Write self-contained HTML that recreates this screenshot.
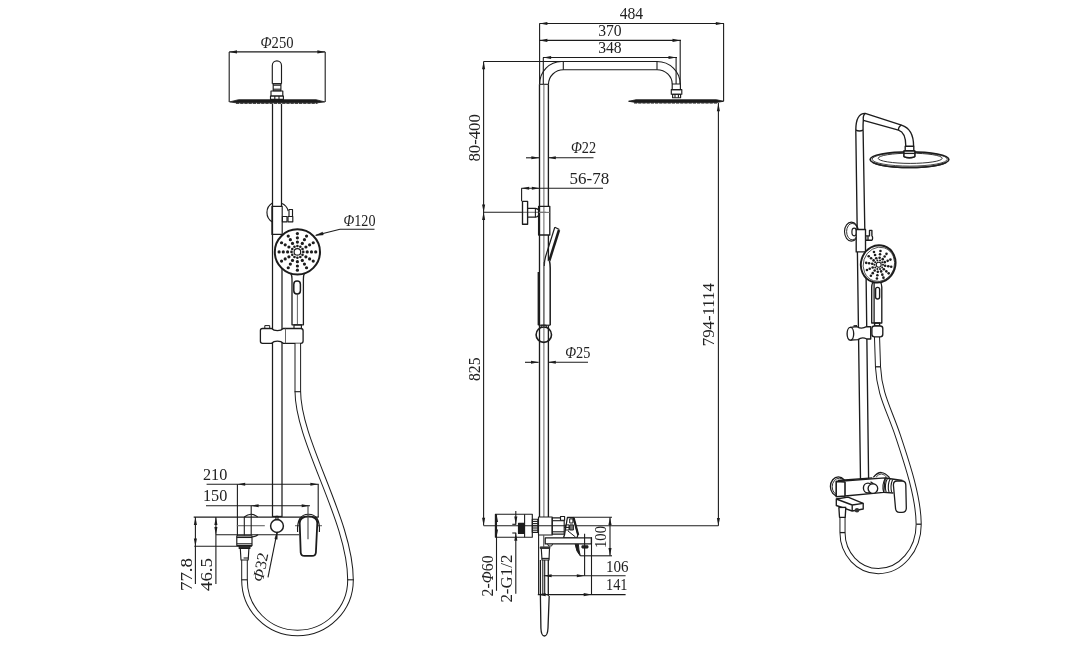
<!DOCTYPE html>
<html lang="en"><head><meta charset="utf-8"><title>Shower column dimensions</title>
<style>
html,body{margin:0;padding:0;background:#fff;}
body{width:1088px;height:650px;overflow:hidden;}
svg{display:block;filter:grayscale(1);}
svg text{font-family:"Liberation Serif","DejaVu Serif",serif;fill:#222;stroke:none;}
</style></head><body>
<svg width="1088" height="650" viewBox="0 0 1088 650" fill="none" stroke="#1c1c1c" stroke-linecap="butt" stroke-linejoin="round">
<rect x="0" y="0" width="1088" height="650" fill="#ffffff" stroke="none"/>
<g id="front-view">
<line x1="229.20" y1="51.90" x2="325.20" y2="51.90" stroke-width="1.10"/>
<polygon points="229.20,51.90 237.00,50.35 237.00,53.45" fill="#1c1c1c" stroke="none"/>
<polygon points="325.20,51.90 317.40,50.35 317.40,53.45" fill="#1c1c1c" stroke="none"/>
<line x1="229.20" y1="51.90" x2="229.20" y2="101.90" stroke-width="1.10"/>
<line x1="325.20" y1="51.90" x2="325.20" y2="101.90" stroke-width="1.10"/>
<text x="277.00" y="47.70" font-size="15.8" text-anchor="middle" textLength="33.0" lengthAdjust="spacingAndGlyphs"><tspan font-style="italic">Φ</tspan>250</text>
<path d="M272.3 83.7 V65.5 A4.6 4.6 0 0 1 281.5 65.5 V83.7" stroke-width="1.15" fill="none"/>
<line x1="272.30" y1="83.70" x2="281.50" y2="83.70" stroke-width="1.10"/>
<rect x="273.20" y="83.70" width="7.70" height="7.00" rx="0" stroke-width="1.15" fill="none"/>
<line x1="273.20" y1="85.20" x2="280.90" y2="85.20" stroke-width="1.10"/>
<line x1="273.20" y1="89.20" x2="280.90" y2="89.20" stroke-width="1.10"/>
<rect x="271.00" y="91.00" width="11.80" height="5.00" rx="0" stroke-width="1.15" fill="none"/>
<rect x="270.50" y="96.00" width="12.90" height="3.40" rx="0" stroke-width="1.15" fill="none"/>
<line x1="274.80" y1="96.00" x2="274.80" y2="99.40" stroke-width="1.10"/>
<line x1="279.00" y1="96.00" x2="279.00" y2="99.40" stroke-width="1.10"/>
<path d="M229.6 101.9 L238.5 99.7 H316 L324.8 101.9 L317.2 102.8 H236 Z" stroke-width="0.80" fill="#1c1c1c"/>
<line x1="236.00" y1="103.20" x2="317.50" y2="103.20" stroke-width="1.20" stroke-dasharray="3.2 1"/>
<line x1="272.50" y1="104.00" x2="272.50" y2="517.00" stroke-width="1.25"/>
<line x1="281.50" y1="104.00" x2="281.50" y2="206.30" stroke-width="1.25"/>
<line x1="282.00" y1="234.40" x2="282.00" y2="517.00" stroke-width="1.25"/>
<path d="M272.4 203 A11 11 0 0 0 272.4 222" stroke-width="1.15" fill="none"/>
<path d="M281.4 203.2 A11 11 0 0 1 288.2 211" stroke-width="1.15" fill="none"/>
<rect x="271.90" y="206.30" width="10.30" height="28.10" rx="0" stroke-width="1.15" fill="none"/>
<rect x="282.40" y="216.50" width="4.60" height="5.30" rx="0" stroke-width="1.15" fill="none"/>
<rect x="288.00" y="216.50" width="4.80" height="5.30" rx="0" stroke-width="1.15" fill="none"/>
<rect x="289.00" y="209.50" width="3.50" height="7.00" rx="0" stroke-width="1.15" fill="none"/>
<circle cx="297.40" cy="251.90" r="22.60" stroke-width="2.00" fill="#fff"/>
<circle cx="297.40" cy="251.90" r="3.30" stroke-width="1.20" fill="none"/>
<circle cx="303.30" cy="251.90" r="1.30" stroke-width="0.00" fill="#1c1c1c"/>
<circle cx="307.20" cy="251.90" r="1.60" stroke-width="0.00" fill="#1c1c1c"/>
<circle cx="311.50" cy="251.90" r="1.60" stroke-width="0.00" fill="#1c1c1c"/>
<circle cx="315.70" cy="251.90" r="1.60" stroke-width="0.00" fill="#1c1c1c"/>
<circle cx="302.51" cy="254.85" r="1.30" stroke-width="0.00" fill="#1c1c1c"/>
<circle cx="305.89" cy="256.80" r="1.60" stroke-width="0.00" fill="#1c1c1c"/>
<circle cx="309.61" cy="258.95" r="1.60" stroke-width="0.00" fill="#1c1c1c"/>
<circle cx="313.25" cy="261.05" r="1.60" stroke-width="0.00" fill="#1c1c1c"/>
<circle cx="300.35" cy="257.01" r="1.30" stroke-width="0.00" fill="#1c1c1c"/>
<circle cx="302.30" cy="260.39" r="1.60" stroke-width="0.00" fill="#1c1c1c"/>
<circle cx="304.45" cy="264.11" r="1.60" stroke-width="0.00" fill="#1c1c1c"/>
<circle cx="306.55" cy="267.75" r="1.60" stroke-width="0.00" fill="#1c1c1c"/>
<circle cx="297.40" cy="257.80" r="1.30" stroke-width="0.00" fill="#1c1c1c"/>
<circle cx="297.40" cy="261.70" r="1.60" stroke-width="0.00" fill="#1c1c1c"/>
<circle cx="297.40" cy="266.00" r="1.60" stroke-width="0.00" fill="#1c1c1c"/>
<circle cx="297.40" cy="270.20" r="1.60" stroke-width="0.00" fill="#1c1c1c"/>
<circle cx="294.45" cy="257.01" r="1.30" stroke-width="0.00" fill="#1c1c1c"/>
<circle cx="292.50" cy="260.39" r="1.60" stroke-width="0.00" fill="#1c1c1c"/>
<circle cx="290.35" cy="264.11" r="1.60" stroke-width="0.00" fill="#1c1c1c"/>
<circle cx="288.25" cy="267.75" r="1.60" stroke-width="0.00" fill="#1c1c1c"/>
<circle cx="292.29" cy="254.85" r="1.30" stroke-width="0.00" fill="#1c1c1c"/>
<circle cx="288.91" cy="256.80" r="1.60" stroke-width="0.00" fill="#1c1c1c"/>
<circle cx="285.19" cy="258.95" r="1.60" stroke-width="0.00" fill="#1c1c1c"/>
<circle cx="281.55" cy="261.05" r="1.60" stroke-width="0.00" fill="#1c1c1c"/>
<circle cx="291.50" cy="251.90" r="1.30" stroke-width="0.00" fill="#1c1c1c"/>
<circle cx="287.60" cy="251.90" r="1.60" stroke-width="0.00" fill="#1c1c1c"/>
<circle cx="283.30" cy="251.90" r="1.60" stroke-width="0.00" fill="#1c1c1c"/>
<circle cx="279.10" cy="251.90" r="1.60" stroke-width="0.00" fill="#1c1c1c"/>
<circle cx="292.29" cy="248.95" r="1.30" stroke-width="0.00" fill="#1c1c1c"/>
<circle cx="288.91" cy="247.00" r="1.60" stroke-width="0.00" fill="#1c1c1c"/>
<circle cx="285.19" cy="244.85" r="1.60" stroke-width="0.00" fill="#1c1c1c"/>
<circle cx="281.55" cy="242.75" r="1.60" stroke-width="0.00" fill="#1c1c1c"/>
<circle cx="294.45" cy="246.79" r="1.30" stroke-width="0.00" fill="#1c1c1c"/>
<circle cx="292.50" cy="243.41" r="1.60" stroke-width="0.00" fill="#1c1c1c"/>
<circle cx="290.35" cy="239.69" r="1.60" stroke-width="0.00" fill="#1c1c1c"/>
<circle cx="288.25" cy="236.05" r="1.60" stroke-width="0.00" fill="#1c1c1c"/>
<circle cx="297.40" cy="246.00" r="1.30" stroke-width="0.00" fill="#1c1c1c"/>
<circle cx="297.40" cy="242.10" r="1.60" stroke-width="0.00" fill="#1c1c1c"/>
<circle cx="297.40" cy="237.80" r="1.60" stroke-width="0.00" fill="#1c1c1c"/>
<circle cx="297.40" cy="233.60" r="1.60" stroke-width="0.00" fill="#1c1c1c"/>
<circle cx="300.35" cy="246.79" r="1.30" stroke-width="0.00" fill="#1c1c1c"/>
<circle cx="302.30" cy="243.41" r="1.60" stroke-width="0.00" fill="#1c1c1c"/>
<circle cx="304.45" cy="239.69" r="1.60" stroke-width="0.00" fill="#1c1c1c"/>
<circle cx="306.55" cy="236.05" r="1.60" stroke-width="0.00" fill="#1c1c1c"/>
<circle cx="302.51" cy="248.95" r="1.30" stroke-width="0.00" fill="#1c1c1c"/>
<circle cx="305.89" cy="247.00" r="1.60" stroke-width="0.00" fill="#1c1c1c"/>
<circle cx="309.61" cy="244.85" r="1.60" stroke-width="0.00" fill="#1c1c1c"/>
<circle cx="313.25" cy="242.75" r="1.60" stroke-width="0.00" fill="#1c1c1c"/>
<path d="M290.6 273.2 Q292 275.5 292 279 V324.8 H303.4 V279 Q303.4 275.5 304.4 273.2" stroke-width="1.30" fill="none"/>
<line x1="297.40" y1="294.50" x2="297.40" y2="324.80" stroke-width="0.90" stroke='#555'/>
<rect x="293.80" y="281.00" width="6.60" height="13.00" rx="3.2" stroke-width="1.50" fill="none"/>
<rect x="294.00" y="324.80" width="7.40" height="3.80" rx="0" stroke-width="1.15" fill="none"/>
<line x1="316.00" y1="235.20" x2="340.00" y2="229.30" stroke-width="1.10"/>
<line x1="340.00" y1="229.30" x2="374.50" y2="229.30" stroke-width="1.10"/>
<path d="M315.4 235.4 L322.6 232.1 L323.3 234.9 Z" stroke-width="0.40" fill="#1c1c1c"/>
<text x="343.50" y="225.70" font-size="15.8" textLength="32.0" lengthAdjust="spacingAndGlyphs"><tspan font-style="italic">Φ</tspan>120</text>
<path d="M262.5 328.5 H271.6 Q273.5 330.6 277.4 330.6 Q281.3 330.6 283.2 328.5 H285.7 V343.3 H283.2 Q281.3 341.2 277.4 341.2 Q273.5 341.2 271.6 343.3 H262.5 Q260.4 343.3 260.4 341.2 V330.6 Q260.4 328.5 262.5 328.5 Z" stroke-width="1.30" fill="#fff"/>
<path d="M285.7 328.5 H300.8 Q303.1 328.5 303.1 330.8 V341 Q303.1 343.3 300.8 343.3 H285.7" stroke-width="1.30" fill="#fff"/>
<path d="M264.8 328.5 V325.6 H269.7 V328.5" stroke-width="1.00" fill="none"/>
<path d="M297.8 343.5 V391 C297.8 442 350.5 520 350.5 580 A53 53 0 0 1 297.5 633 A53 53 0 0 1 244.5 580 V560" stroke-width="6.60" fill="none"/>
<path d="M297.8 343.5 V391 C297.8 442 350.5 520 350.5 580 A53 53 0 0 1 297.5 633 A53 53 0 0 1 244.5 580 V560" stroke-width="4.60" fill="none" stroke='#fff'/>
<line x1="347.20" y1="579.80" x2="353.80" y2="579.80" stroke-width="1.10"/>
<line x1="241.50" y1="579.80" x2="247.50" y2="579.80" stroke-width="1.10"/>
<line x1="294.60" y1="391.70" x2="301.00" y2="391.70" stroke-width="1.10"/>
<line x1="206.60" y1="484.30" x2="318.70" y2="484.30" stroke-width="1.10"/>
<polygon points="237.40,484.30 245.20,482.75 245.20,485.85" fill="#1c1c1c" stroke="none"/>
<polygon points="318.20,484.30 310.40,482.75 310.40,485.85" fill="#1c1c1c" stroke="none"/>
<text x="203.00" y="479.80" font-size="15.8" textLength="24.3" lengthAdjust="spacingAndGlyphs">210</text>
<line x1="237.40" y1="484.30" x2="237.40" y2="543.00" stroke-width="1.10"/>
<line x1="318.20" y1="484.30" x2="318.20" y2="517.00" stroke-width="1.10"/>
<line x1="206.00" y1="505.70" x2="310.00" y2="505.70" stroke-width="1.10"/>
<polygon points="250.80,505.70 258.60,504.15 258.60,507.25" fill="#1c1c1c" stroke="none"/>
<polygon points="309.50,505.70 301.70,504.15 301.70,507.25" fill="#1c1c1c" stroke="none"/>
<text x="203.00" y="500.60" font-size="15.8" textLength="24.3" lengthAdjust="spacingAndGlyphs">150</text>
<line x1="251.20" y1="505.70" x2="251.20" y2="517.00" stroke-width="1.10"/>
<line x1="193.70" y1="517.10" x2="318.70" y2="517.10" stroke-width="1.10"/>
<line x1="215.90" y1="534.80" x2="299.00" y2="534.80" stroke-width="1.10"/>
<line x1="194.30" y1="546.20" x2="251.90" y2="546.20" stroke-width="1.10"/>
<line x1="195.40" y1="517.10" x2="195.40" y2="584.00" stroke-width="1.10"/>
<polygon points="195.40,517.10 193.85,524.90 196.95,524.90" fill="#1c1c1c" stroke="none"/>
<polygon points="195.40,546.20 193.85,538.40 196.95,538.40" fill="#1c1c1c" stroke="none"/>
<line x1="215.90" y1="517.10" x2="215.90" y2="584.00" stroke-width="1.10"/>
<polygon points="215.90,517.10 214.35,524.90 217.45,524.90" fill="#1c1c1c" stroke="none"/>
<polygon points="215.90,534.80 214.35,527.00 217.45,527.00" fill="#1c1c1c" stroke="none"/>
<text x="191.50" y="591.00" font-size="15.8" textLength="33.0" lengthAdjust="spacingAndGlyphs" transform="rotate(-90 191.50 591.00)">77.8</text>
<text x="211.60" y="591.00" font-size="15.8" textLength="33.0" lengthAdjust="spacingAndGlyphs" transform="rotate(-90 211.60 591.00)">46.5</text>
<line x1="236.80" y1="525.70" x2="264.80" y2="525.70" stroke-width="1.10" stroke='#666'/>
<line x1="295.00" y1="525.70" x2="322.00" y2="525.70" stroke-width="1.10" stroke='#666'/>
<circle cx="277.00" cy="526.00" r="6.40" stroke-width="1.50" fill="#fff"/>
<line x1="277.10" y1="532.20" x2="268.00" y2="577.40" stroke-width="1.10"/>
<path d="M277.3 531.8 L277.2 539.3 L274.8 538.8 Z" stroke-width="0.50" fill="#1c1c1c"/>
<text x="262.70" y="582.60" font-size="15.8" textLength="29.5" lengthAdjust="spacingAndGlyphs" transform="rotate(-78.6 262.70 582.60)"><tspan font-style="italic">Φ</tspan>32</text>
<path d="M244.3 517 Q251 511.5 257.7 517" stroke-width="1.15" fill="none"/>
<line x1="244.30" y1="517.00" x2="244.30" y2="535.40" stroke-width="1.10"/>
<line x1="251.20" y1="517.00" x2="251.20" y2="535.40" stroke-width="1.10"/>
<path d="M251.5 537 Q255.5 536.6 258 534.8" stroke-width="1.15" fill="none"/>
<rect x="236.80" y="535.90" width="15.20" height="9.70" rx="0" stroke-width="1.15" fill="#fff"/>
<line x1="236.80" y1="537.50" x2="252.00" y2="537.50" stroke-width="1.10"/>
<line x1="236.80" y1="543.80" x2="252.00" y2="543.80" stroke-width="1.10"/>
<rect x="239.20" y="545.60" width="10.70" height="2.80" rx="0" stroke-width="1.15" fill="#333"/>
<path d="M240.3 548.4 L241 560 H248.2 L248.9 548.4" stroke-width="1.15" fill="none"/>
<line x1="243.60" y1="558.00" x2="248.20" y2="558.00" stroke-width="1.10"/>
<line x1="272.50" y1="516.40" x2="282.00" y2="516.40" stroke-width="1.10"/>
<rect x="275.90" y="516.40" width="2.10" height="3.20" rx="0" stroke-width="1.15" fill="none"/>
<path d="M297.6 532 Q296.6 514.2 308.5 514.2 Q320.4 514.2 319.4 532" stroke-width="1.15" fill="none"/>
<path d="M299.7 523 Q299.7 516.5 308.5 516.5 Q317.3 516.5 317.3 523 L315.9 552.5 Q315.7 555.9 312 555.9 H304.5 Q300.9 555.9 300.7 552.5 Z" stroke-width="1.80" fill="#fff"/>
<line x1="308.00" y1="506.00" x2="308.00" y2="539.20" stroke-width="1.10" stroke='#444'/>
</g>
<g id="side-view">
<line x1="539.40" y1="23.50" x2="724.00" y2="23.50" stroke-width="1.10"/>
<polygon points="539.60,23.50 547.40,21.95 547.40,25.05" fill="#1c1c1c" stroke="none"/>
<polygon points="723.60,23.50 715.80,21.95 715.80,25.05" fill="#1c1c1c" stroke="none"/>
<text x="631.40" y="18.60" font-size="15.8" text-anchor="middle" textLength="23.5" lengthAdjust="spacingAndGlyphs">484</text>
<line x1="539.40" y1="40.40" x2="681.00" y2="40.40" stroke-width="1.10"/>
<polygon points="539.60,40.40 547.40,38.85 547.40,41.95" fill="#1c1c1c" stroke="none"/>
<polygon points="680.30,40.40 672.50,38.85 672.50,41.95" fill="#1c1c1c" stroke="none"/>
<text x="609.90" y="35.60" font-size="15.8" text-anchor="middle" textLength="23.5" lengthAdjust="spacingAndGlyphs">370</text>
<line x1="543.00" y1="57.50" x2="677.00" y2="57.50" stroke-width="1.10"/>
<polygon points="543.30,57.50 551.10,55.95 551.10,59.05" fill="#1c1c1c" stroke="none"/>
<polygon points="676.30,57.50 668.50,55.95 668.50,59.05" fill="#1c1c1c" stroke="none"/>
<text x="609.90" y="53.00" font-size="15.8" text-anchor="middle" textLength="23.5" lengthAdjust="spacingAndGlyphs">348</text>
<line x1="539.60" y1="23.40" x2="539.60" y2="84.30" stroke-width="1.10"/>
<line x1="723.60" y1="23.40" x2="723.60" y2="101.30" stroke-width="1.10"/>
<line x1="680.20" y1="40.10" x2="680.20" y2="84.00" stroke-width="1.10"/>
<line x1="676.10" y1="57.60" x2="676.10" y2="84.00" stroke-width="1.10"/>
<line x1="543.30" y1="57.60" x2="543.30" y2="84.30" stroke-width="1.10"/>
<line x1="483.60" y1="61.50" x2="561.50" y2="61.50" stroke-width="1.10"/>
<path d="M539.6 84.3 A21.9 22.8 0 0 1 561.5 61.5 H657 A23.2 22.5 0 0 1 680.2 84" stroke-width="1.15" fill="none"/>
<path d="M548.5 84.3 A15 14.6 0 0 1 563.5 69.7 H657 A15.2 14.3 0 0 1 672.2 84" stroke-width="1.15" fill="none"/>
<line x1="563.30" y1="61.50" x2="563.30" y2="69.70" stroke-width="1.10"/>
<line x1="657.00" y1="61.50" x2="657.00" y2="69.70" stroke-width="1.10"/>
<line x1="539.60" y1="84.30" x2="548.50" y2="84.30" stroke-width="1.10"/>
<rect x="672.20" y="84.00" width="8.20" height="5.60" rx="0" stroke-width="1.15" fill="none"/>
<rect x="671.30" y="89.60" width="10.50" height="4.60" rx="0" stroke-width="1.15" fill="none"/>
<rect x="672.60" y="94.20" width="8.00" height="3.60" rx="0" stroke-width="1.15" fill="none"/>
<line x1="675.00" y1="94.20" x2="675.00" y2="97.80" stroke-width="1.10"/>
<line x1="678.40" y1="94.20" x2="678.40" y2="97.80" stroke-width="1.10"/>
<line x1="628.30" y1="101.30" x2="723.60" y2="101.30" stroke-width="1.10"/>
<path d="M629 101.3 L636 99.7 H716.5 L723.2 101.3 L716.5 102.6 H636 Z" stroke-width="0.80" fill="#1c1c1c"/>
<line x1="634.00" y1="103.00" x2="718.00" y2="103.00" stroke-width="1.20" stroke-dasharray="3.2 1"/>
<line x1="539.50" y1="84.30" x2="539.50" y2="517.00" stroke-width="1.35"/>
<line x1="548.40" y1="84.30" x2="548.40" y2="206.30" stroke-width="1.35"/>
<line x1="543.90" y1="84.30" x2="543.90" y2="517.00" stroke-width="0.90" stroke='#555'/>
<line x1="548.40" y1="235.00" x2="548.40" y2="517.00" stroke-width="1.35"/>
<line x1="483.60" y1="61.50" x2="483.60" y2="525.60" stroke-width="1.10"/>
<polygon points="483.60,61.50 482.05,69.30 485.15,69.30" fill="#1c1c1c" stroke="none"/>
<polygon points="483.60,212.30 482.05,204.50 485.15,204.50" fill="#1c1c1c" stroke="none"/>
<polygon points="483.60,212.30 482.05,220.10 485.15,220.10" fill="#1c1c1c" stroke="none"/>
<polygon points="483.60,525.60 482.05,517.80 485.15,517.80" fill="#1c1c1c" stroke="none"/>
<line x1="483.60" y1="212.30" x2="522.00" y2="212.30" stroke-width="1.10"/>
<line x1="522.00" y1="212.30" x2="546.00" y2="212.30" stroke-width="1.10" stroke='#777'/>
<text x="480.00" y="161.60" font-size="15.8" textLength="47.5" lengthAdjust="spacingAndGlyphs" transform="rotate(-90 480.00 161.60)">80-400</text>
<text x="480.00" y="381.00" font-size="15.8" textLength="23.5" lengthAdjust="spacingAndGlyphs" transform="rotate(-90 480.00 381.00)">825</text>
<line x1="526.00" y1="157.80" x2="539.00" y2="157.80" stroke-width="1.10"/>
<line x1="548.00" y1="157.80" x2="593.50" y2="157.80" stroke-width="1.10"/>
<polygon points="539.20,157.80 531.40,156.25 531.40,159.35" fill="#1c1c1c" stroke="none"/>
<polygon points="548.00,157.80 555.80,156.25 555.80,159.35" fill="#1c1c1c" stroke="none"/>
<text x="570.90" y="153.30" font-size="15.8" textLength="25.2" lengthAdjust="spacingAndGlyphs"><tspan font-style="italic">Φ</tspan>22</text>
<line x1="521.40" y1="188.20" x2="603.00" y2="188.20" stroke-width="1.10"/>
<polygon points="521.40,188.20 529.20,186.65 529.20,189.75" fill="#1c1c1c" stroke="none"/>
<polygon points="539.60,188.20 531.80,186.65 531.80,189.75" fill="#1c1c1c" stroke="none"/>
<line x1="521.60" y1="188.20" x2="521.60" y2="201.20" stroke-width="1.10"/>
<text x="569.60" y="184.10" font-size="15.8" textLength="39.6" lengthAdjust="spacingAndGlyphs">56-78</text>
<rect x="522.50" y="201.40" width="5.10" height="22.90" rx="0" stroke-width="1.35" fill="none"/>
<path d="M527.6 208.3 H535.4 Q539.4 209 539.4 212.7 Q539.4 216.5 535.4 217.2 H527.6" stroke-width="1.25" fill="none"/>
<line x1="535.40" y1="208.30" x2="535.40" y2="217.20" stroke-width="1.10"/>
<rect x="538.60" y="206.30" width="11.20" height="28.70" rx="0" stroke-width="1.30" fill="none"/>
<line x1="538.90" y1="212.40" x2="549.80" y2="212.40" stroke-width="1.10" stroke='#777'/>
<path d="M549.4 260.5 Q550.2 264 550.2 268 V325.2 H545 V262 Z" stroke-width="0.00" fill="#fff" stroke='none'/>
<path d="M554.8 227.2 L559.4 229.5" stroke-width="1.15" fill="none"/>
<path d="M554.8 227.2 L545.6 256.5 Q544.3 261 544.3 266" stroke-width="1.20" fill="none"/>
<path d="M559 230 L549.4 260.5" stroke-width="2.50" fill="none"/>
<path d="M549.4 260.5 Q550.2 264 550.2 268 V325.2" stroke-width="1.50" fill="none"/>
<line x1="543.90" y1="262.00" x2="543.90" y2="325.20" stroke-width="0.90" stroke='#555'/>
<line x1="538.60" y1="272.00" x2="538.60" y2="325.20" stroke-width="2.00"/>
<line x1="538.50" y1="325.20" x2="550.20" y2="325.20" stroke-width="1.10"/>
<path d="M541.2 328 V325.2 H546.3 V328" stroke-width="1.00" fill="none"/>
<circle cx="543.80" cy="334.70" r="7.70" stroke-width="1.60" fill="none"/>
<line x1="525.00" y1="362.30" x2="538.60" y2="362.30" stroke-width="1.10"/>
<line x1="548.00" y1="362.30" x2="588.00" y2="362.30" stroke-width="1.10"/>
<polygon points="538.80,362.30 531.00,360.75 531.00,363.85" fill="#1c1c1c" stroke="none"/>
<polygon points="548.00,362.30 555.80,360.75 555.80,363.85" fill="#1c1c1c" stroke="none"/>
<text x="565.20" y="357.50" font-size="15.8" textLength="25.2" lengthAdjust="spacingAndGlyphs"><tspan font-style="italic">Φ</tspan>25</text>
<line x1="718.40" y1="103.00" x2="718.40" y2="525.70" stroke-width="1.10"/>
<polygon points="718.40,103.40 716.85,111.20 719.95,111.20" fill="#1c1c1c" stroke="none"/>
<polygon points="718.40,525.70 716.85,517.90 719.95,517.90" fill="#1c1c1c" stroke="none"/>
<text x="714.40" y="346.20" font-size="15.8" textLength="63.0" lengthAdjust="spacingAndGlyphs" transform="rotate(-90 714.40 346.20)">794-1114</text>
<line x1="483.60" y1="525.70" x2="718.40" y2="525.70" stroke-width="1.10"/>
<rect x="495.40" y="514.20" width="36.90" height="23.00" rx="0" stroke-width="1.15" fill="none"/>
<line x1="524.60" y1="514.20" x2="524.60" y2="537.20" stroke-width="1.10"/>
<rect x="518.50" y="523.40" width="5.70" height="10.10" rx="0" stroke-width="1.15" fill="#1c1c1c"/>
<line x1="496.50" y1="514.20" x2="496.50" y2="590.80" stroke-width="1.10"/>
<polygon points="496.50,514.20 494.95,522.00 498.05,522.00" fill="#1c1c1c" stroke="none"/>
<polygon points="496.50,537.20 494.95,529.40 498.05,529.40" fill="#1c1c1c" stroke="none"/>
<line x1="515.80" y1="511.00" x2="515.80" y2="524.30" stroke-width="1.10"/>
<polygon points="515.80,524.30 514.25,516.50 517.35,516.50" fill="#1c1c1c" stroke="none"/>
<polygon points="515.80,533.00 514.25,540.80 517.35,540.80" fill="#1c1c1c" stroke="none"/>
<line x1="515.80" y1="533.00" x2="515.80" y2="593.80" stroke-width="1.10"/>
<line x1="512.30" y1="524.30" x2="516.20" y2="524.30" stroke-width="1.10"/>
<line x1="512.30" y1="533.00" x2="516.20" y2="533.00" stroke-width="1.10"/>
<text x="492.70" y="596.40" font-size="15.8" textLength="41.0" lengthAdjust="spacingAndGlyphs" transform="rotate(-90 492.70 596.40)">2-<tspan font-style="italic">Φ</tspan>60</text>
<text x="512.30" y="602.60" font-size="15.8" textLength="48.0" lengthAdjust="spacingAndGlyphs" transform="rotate(-90 512.30 602.60)">2-G1/2</text>
<rect x="532.30" y="519.20" width="5.50" height="13.10" rx="0" stroke-width="1.15" fill="none"/>
<line x1="532.30" y1="521.40" x2="537.80" y2="521.40" stroke-width="1.10"/>
<line x1="532.30" y1="523.60" x2="537.80" y2="523.60" stroke-width="1.10"/>
<line x1="532.30" y1="525.80" x2="537.80" y2="525.80" stroke-width="1.10"/>
<line x1="532.30" y1="528.00" x2="537.80" y2="528.00" stroke-width="1.10"/>
<line x1="532.30" y1="530.20" x2="537.80" y2="530.20" stroke-width="1.10"/>
<rect x="538.50" y="517.00" width="13.70" height="18.00" rx="0" stroke-width="1.15" fill="none"/>
<rect x="552.20" y="517.90" width="12.00" height="16.20" rx="0" stroke-width="1.15" fill="none"/>
<line x1="552.20" y1="520.70" x2="564.20" y2="520.70" stroke-width="1.10"/>
<line x1="552.20" y1="531.80" x2="564.20" y2="531.80" stroke-width="1.10"/>
<rect x="560.50" y="516.50" width="4.10" height="3.70" rx="0" stroke-width="1.15" fill="#fff"/>
<path d="M567.4 517.5 H573.4 L578 534.5 L577 537.8 H563.5 L564.6 534.5 Z" stroke-width="1.30" fill="#fff"/>
<path d="M573.6 517.8 L578.2 535" stroke-width="2.20" fill="none"/>
<rect x="569.70" y="518.90" width="3.20" height="4.10" rx="0" stroke-width="1.00" fill="none"/>
<rect x="569.70" y="524.90" width="3.70" height="5.10" rx="0" stroke-width="1.00" fill="#777"/>
<rect x="565.50" y="524.90" width="3.50" height="5.10" rx="0" stroke-width="1.00" fill="none"/>
<line x1="564.20" y1="527.40" x2="569.70" y2="527.40" stroke-width="1.10"/>
<path d="M568 531 L575.5 537" stroke-width="1.00" fill="none"/>
<path d="M575.2 544.2 Q576.2 552 580.3 555.8 Q578.6 550 578.4 544.2 Z" stroke-width="1.00" fill="#1c1c1c"/>
<rect x="545.20" y="537.80" width="46.20" height="6.10" rx="0" stroke-width="1.30" fill="#fff"/>
<rect x="581.70" y="545.40" width="6.50" height="2.80" rx="1" stroke-width="0.60" fill="#222"/>
<path d="M547.5 543.9 L548.6 546 H551.6 L552.6 543.9" stroke-width="1.00" fill="none"/>
<rect x="540.20" y="546.90" width="9.70" height="1.60" rx="0" stroke-width="0.80" fill="#444"/>
<path d="M541.3 548.5 L542 560 H549 L549.5 548.5" stroke-width="1.15" fill="none"/>
<line x1="541.80" y1="558.40" x2="549.20" y2="558.40" stroke-width="1.10"/>
<line x1="543.70" y1="535.00" x2="543.70" y2="547.00" stroke-width="1.10" stroke='#555'/>
<line x1="538.60" y1="535.00" x2="538.60" y2="595.00" stroke-width="1.10"/>
<line x1="540.40" y1="560.00" x2="540.40" y2="596.00" stroke-width="1.30"/>
<line x1="542.80" y1="560.00" x2="542.80" y2="594.60" stroke-width="1.10"/>
<line x1="544.70" y1="560.00" x2="544.70" y2="594.60" stroke-width="1.10"/>
<line x1="548.30" y1="560.00" x2="548.30" y2="596.00" stroke-width="1.30"/>
<path d="M540.4 596 L540.9 628 Q541.2 636 544.4 636 Q547.6 636 548 628 L549.2 596" stroke-width="1.30" fill="none"/>
<line x1="573.40" y1="517.30" x2="612.00" y2="517.30" stroke-width="1.10"/>
<line x1="580.30" y1="555.80" x2="612.00" y2="555.80" stroke-width="1.10"/>
<line x1="610.00" y1="517.30" x2="610.00" y2="555.80" stroke-width="1.10"/>
<polygon points="610.00,517.30 608.45,525.10 611.55,525.10" fill="#1c1c1c" stroke="none"/>
<polygon points="610.00,555.80 608.45,548.00 611.55,548.00" fill="#1c1c1c" stroke="none"/>
<text x="606.00" y="548.00" font-size="15.8" textLength="22.0" lengthAdjust="spacingAndGlyphs" transform="rotate(-90 606.00 548.00)">100</text>
<line x1="543.80" y1="575.80" x2="625.60" y2="575.80" stroke-width="1.10"/>
<polygon points="543.80,575.80 551.60,574.25 551.60,577.35" fill="#1c1c1c" stroke="none"/>
<polygon points="584.60,575.80 576.80,574.25 576.80,577.35" fill="#1c1c1c" stroke="none"/>
<line x1="584.60" y1="533.80" x2="584.60" y2="575.80" stroke-width="1.10"/>
<text x="606.00" y="571.60" font-size="15.8" textLength="22.6" lengthAdjust="spacingAndGlyphs">106</text>
<line x1="537.80" y1="594.60" x2="625.60" y2="594.60" stroke-width="1.10"/>
<polygon points="537.80,594.60 545.60,593.05 545.60,596.15" fill="#1c1c1c" stroke="none"/>
<polygon points="591.50,594.60 583.70,593.05 583.70,596.15" fill="#1c1c1c" stroke="none"/>
<line x1="591.50" y1="537.20" x2="591.50" y2="594.60" stroke-width="1.10"/>
<text x="606.00" y="590.10" font-size="15.8" textLength="21.5" lengthAdjust="spacingAndGlyphs">141</text>
</g>
<g id="perspective-view">
<path d="M842.5 517 V532.6 A35.8 38.5 0 0 0 878.3 571.1 A40.4 46.9 0 0 0 918.7 524.2 C918.5 498 908 466 898 436 C889 409 879.5 395 878 366.8 L877 336.5" stroke-width="6.10" fill="none"/>
<path d="M842.5 517 V532.6 A35.8 38.5 0 0 0 878.3 571.1 A40.4 46.9 0 0 0 918.7 524.2 C918.5 498 908 466 898 436 C889 409 879.5 395 878 366.8 L877 336.5" stroke-width="4.10" fill="none" stroke='#fff'/>
<line x1="840.00" y1="532.60" x2="845.10" y2="532.60" stroke-width="1.30"/>
<line x1="916.30" y1="524.20" x2="921.00" y2="524.20" stroke-width="1.30"/>
<line x1="875.60" y1="366.80" x2="880.40" y2="366.80" stroke-width="1.30"/>
<path d="M855.8 130.2 L857.2 229.5 M863.1 130.2 L864.8 229.5" stroke-width="1.35" fill="none"/>
<path d="M857.4 252 L860.5 479.6 M865.8 252 L868.6 478.8" stroke-width="1.35" fill="none"/>
<path d="M855.8 130.2 C855.8 119 859 113.3 865.2 113.3 L901.5 125.2 C909 127.6 913.6 134 913.6 146.2" stroke-width="1.35" fill="none"/>
<path d="M863.1 130.2 C863 125 863 122.5 863.4 120.3 L898.5 130.2 C903 131.6 905.8 137 905.8 146.2" stroke-width="1.35" fill="none"/>
<path d="M855.8 130.2 Q859.5 131.8 863.1 130.2 M865.2 113.3 Q862.6 116 863.4 120.3 M901.5 125.2 Q898.3 126.5 898.5 130.2" stroke-width="1.35" fill="none"/>
<rect x="905.20" y="146.20" width="8.60" height="4.80" rx="0" stroke-width="1.35" fill="none"/>
<path d="M904 151 H914.8 V156.6 Q909.4 159 904 156.6 Z" stroke-width="1.35" fill="#fff"/>
<line x1="904.00" y1="153.40" x2="914.80" y2="153.40" stroke-width="1.30"/>
<g>
<ellipse cx="909.50" cy="159.60" rx="39.40" ry="7.90" stroke-width="1.60" fill="none"/>
<ellipse cx="909.70" cy="159.20" rx="37.60" ry="6.90" stroke-width="0.80" fill="none"/>
<ellipse cx="910.20" cy="158.30" rx="32.00" ry="5.10" stroke-width="0.90" fill="none"/>
<path d="M873 162.6 A39.4 7.9 0 0 0 946 162.6" stroke-width="1.60" fill="none" stroke='#222'/>
</g>
<path d="M904 151 H914.8 V156.6 Q909.4 159 904 156.6 Z" stroke-width="1.35" fill="#fff"/>
<line x1="904.00" y1="153.40" x2="914.80" y2="153.40" stroke-width="1.30"/>
<ellipse cx="851.40" cy="231.60" rx="6.90" ry="9.50" stroke-width="1.10" fill="none"/>
<ellipse cx="852.20" cy="231.60" rx="5.60" ry="8.20" stroke-width="0.90" fill="none"/>
<ellipse cx="854.20" cy="232.00" rx="2.30" ry="3.80" stroke-width="1.20" fill="none"/>
<rect x="856.20" y="229.50" width="9.30" height="22.40" rx="0" stroke-width="1.35" fill="#fff"/>
<path d="M865.8 235.9 H869.5 V230.4 H871.9 V235.9 Q872.6 236 872.6 238 Q872.6 240.2 871.9 240.2 H865.8 Z" stroke-width="1.35" fill="#fff"/>
<line x1="868.00" y1="235.90" x2="868.00" y2="240.20" stroke-width="1.30"/>
<path d="M871.7 323 V287 Q871.7 283 874.5 281 H879.5 Q881.8 283 881.8 287 V323 Z" stroke-width="1.35" fill="#fff"/>
<line x1="874.10" y1="283.00" x2="874.10" y2="323.00" stroke-width="1.30"/>
<rect x="875.60" y="287.30" width="4.00" height="11.70" rx="2" stroke-width="1.35" fill="none"/>
<rect x="874.60" y="323.00" width="5.00" height="3.00" rx="0" stroke-width="1.35" fill="none"/>
<ellipse cx="878.20" cy="263.90" rx="17.20" ry="18.80" stroke-width="1.90" fill="#fff" transform="rotate(18 878.20 263.90)"/>
<ellipse cx="878.90" cy="264.30" rx="15.60" ry="17.30" stroke-width="0.70" fill="none" transform="rotate(18 878.90 264.30)"/>
<circle cx="878.70" cy="264.80" r="2.50" stroke-width="1.10" fill="none"/>
<circle cx="885.15" cy="265.79" r="1.30" stroke-width="0.00" fill="#1c1c1c"/>
<circle cx="888.28" cy="266.28" r="1.30" stroke-width="0.00" fill="#1c1c1c"/>
<circle cx="891.22" cy="266.73" r="1.30" stroke-width="0.00" fill="#1c1c1c"/>
<circle cx="883.83" cy="269.20" r="1.30" stroke-width="0.00" fill="#1c1c1c"/>
<circle cx="886.32" cy="271.33" r="1.30" stroke-width="0.00" fill="#1c1c1c"/>
<circle cx="888.67" cy="273.34" r="1.30" stroke-width="0.00" fill="#1c1c1c"/>
<circle cx="881.14" cy="271.42" r="1.30" stroke-width="0.00" fill="#1c1c1c"/>
<circle cx="882.32" cy="274.64" r="1.30" stroke-width="0.00" fill="#1c1c1c"/>
<circle cx="883.44" cy="277.66" r="1.30" stroke-width="0.00" fill="#1c1c1c"/>
<circle cx="877.79" cy="271.87" r="1.30" stroke-width="0.00" fill="#1c1c1c"/>
<circle cx="877.35" cy="275.30" r="1.30" stroke-width="0.00" fill="#1c1c1c"/>
<circle cx="876.94" cy="278.54" r="1.30" stroke-width="0.00" fill="#1c1c1c"/>
<circle cx="874.69" cy="270.43" r="1.30" stroke-width="0.00" fill="#1c1c1c"/>
<circle cx="872.75" cy="273.16" r="1.30" stroke-width="0.00" fill="#1c1c1c"/>
<circle cx="870.91" cy="275.73" r="1.30" stroke-width="0.00" fill="#1c1c1c"/>
<circle cx="872.66" cy="267.47" r="1.30" stroke-width="0.00" fill="#1c1c1c"/>
<circle cx="869.73" cy="268.77" r="1.30" stroke-width="0.00" fill="#1c1c1c"/>
<circle cx="866.97" cy="270.00" r="1.30" stroke-width="0.00" fill="#1c1c1c"/>
<circle cx="872.25" cy="263.81" r="1.30" stroke-width="0.00" fill="#1c1c1c"/>
<circle cx="869.12" cy="263.32" r="1.30" stroke-width="0.00" fill="#1c1c1c"/>
<circle cx="866.18" cy="262.87" r="1.30" stroke-width="0.00" fill="#1c1c1c"/>
<circle cx="873.57" cy="260.40" r="1.30" stroke-width="0.00" fill="#1c1c1c"/>
<circle cx="871.08" cy="258.27" r="1.30" stroke-width="0.00" fill="#1c1c1c"/>
<circle cx="868.73" cy="256.26" r="1.30" stroke-width="0.00" fill="#1c1c1c"/>
<circle cx="876.26" cy="258.18" r="1.30" stroke-width="0.00" fill="#1c1c1c"/>
<circle cx="875.08" cy="254.96" r="1.30" stroke-width="0.00" fill="#1c1c1c"/>
<circle cx="873.96" cy="251.94" r="1.30" stroke-width="0.00" fill="#1c1c1c"/>
<circle cx="879.61" cy="257.73" r="1.30" stroke-width="0.00" fill="#1c1c1c"/>
<circle cx="880.05" cy="254.30" r="1.30" stroke-width="0.00" fill="#1c1c1c"/>
<circle cx="880.46" cy="251.06" r="1.30" stroke-width="0.00" fill="#1c1c1c"/>
<circle cx="882.71" cy="259.17" r="1.30" stroke-width="0.00" fill="#1c1c1c"/>
<circle cx="884.65" cy="256.44" r="1.30" stroke-width="0.00" fill="#1c1c1c"/>
<circle cx="886.49" cy="253.87" r="1.30" stroke-width="0.00" fill="#1c1c1c"/>
<circle cx="884.74" cy="262.13" r="1.30" stroke-width="0.00" fill="#1c1c1c"/>
<circle cx="887.67" cy="260.83" r="1.30" stroke-width="0.00" fill="#1c1c1c"/>
<circle cx="890.43" cy="259.60" r="1.30" stroke-width="0.00" fill="#1c1c1c"/>
<circle cx="883.00" cy="264.80" r="1.00" stroke-width="0.00" fill="#1c1c1c"/>
<circle cx="882.18" cy="267.45" r="1.00" stroke-width="0.00" fill="#1c1c1c"/>
<circle cx="880.03" cy="269.08" r="1.00" stroke-width="0.00" fill="#1c1c1c"/>
<circle cx="877.37" cy="269.08" r="1.00" stroke-width="0.00" fill="#1c1c1c"/>
<circle cx="875.22" cy="267.45" r="1.00" stroke-width="0.00" fill="#1c1c1c"/>
<circle cx="874.40" cy="264.80" r="1.00" stroke-width="0.00" fill="#1c1c1c"/>
<circle cx="875.22" cy="262.15" r="1.00" stroke-width="0.00" fill="#1c1c1c"/>
<circle cx="877.37" cy="260.52" r="1.00" stroke-width="0.00" fill="#1c1c1c"/>
<circle cx="880.03" cy="260.52" r="1.00" stroke-width="0.00" fill="#1c1c1c"/>
<circle cx="882.18" cy="262.15" r="1.00" stroke-width="0.00" fill="#1c1c1c"/>
<path d="M850.4 327.4 L857 326.7 Q861.5 329.5 866.5 326.7 H870.7 V339 H866.8 Q862 336.5 858 339.6 L850.4 340.2 Z" stroke-width="1.35" fill="#fff"/>
<ellipse cx="850.40" cy="333.80" rx="3.30" ry="6.40" stroke-width="1.35" fill="#fff"/>
<rect x="871.90" y="326.00" width="10.90" height="10.80" rx="2.5" stroke-width="1.35" fill="#fff"/>
<line x1="853.50" y1="326.00" x2="857.00" y2="325.60" stroke-width="1.30"/>
<ellipse cx="838.40" cy="486.60" rx="8.00" ry="9.70" stroke-width="1.30" fill="#fff"/>
<ellipse cx="839.40" cy="486.80" rx="7.20" ry="8.60" stroke-width="0.90" fill="none"/>
<path d="M836.3 481.5 L885.3 477.8 L883.7 492.3 L844.9 496 L836.3 496.6 Z" stroke-width="1.35" fill="#fff"/>
<line x1="844.90" y1="482.00" x2="844.90" y2="496.00" stroke-width="1.30"/>
<path d="M837.9 480.5 L872.4 477.8" stroke-width="1.35" fill="none"/>
<path d="M836.3 481.5 V496.6 L844.9 496 V482 Z" stroke-width="1.35" fill="#fff"/>
<path d="M873.4 477.4 Q881 467.5 889.6 477.8" stroke-width="1.35" fill="none"/>
<path d="M875.8 477.4 Q881.4 470.5 887 477.6" stroke-width="0.80" fill="none"/>
<ellipse cx="868.00" cy="488.00" rx="4.60" ry="4.90" stroke-width="1.35" fill="#fff"/>
<circle cx="872.90" cy="488.50" r="4.80" stroke-width="1.35" fill="#fff"/>
<line x1="870.50" y1="481.80" x2="873.20" y2="483.60" stroke-width="1.30"/>
<path d="M885.3 478.3 Q881.5 485 883.7 492.3 M887.6 478 Q884 485 886.2 492.4 M890.3 478.6 Q887 485.5 889 492.2 M892.6 479.5 Q890 486 891.6 492" stroke-width="1.10" fill="none"/>
<path d="M885.3 478 L902.5 480.5 M883.7 492.3 L893.4 493" stroke-width="1.35" fill="none"/>
<path d="M893.4 485 Q893.4 481 897 481 H902 Q905.7 481 905.8 485 L906.3 508 Q906.3 512.4 902 512.4 H899.5 Q895.7 512.4 895.5 508 Z" stroke-width="1.30" fill="#fff"/>
<path d="M836.3 499 L848 497.2 L863.2 503.3 V509 L852.2 511 L836.3 505.5 Z" stroke-width="1.35" fill="#fff"/>
<path d="M836.3 499 L852.2 505 L863.2 503.3 M852.2 505 V511" stroke-width="1.35" fill="none"/>
<circle cx="857.00" cy="510.30" r="2.30" stroke-width="0.00" fill="#333"/>
<path d="M838.9 507.6 L839.5 517.3 H845.2 L845.8 507.6" stroke-width="1.35" fill="#fff"/>
<line x1="838.40" y1="507.40" x2="846.20" y2="507.40" stroke-width="1.40"/>
</g>
</svg>
</body></html>
